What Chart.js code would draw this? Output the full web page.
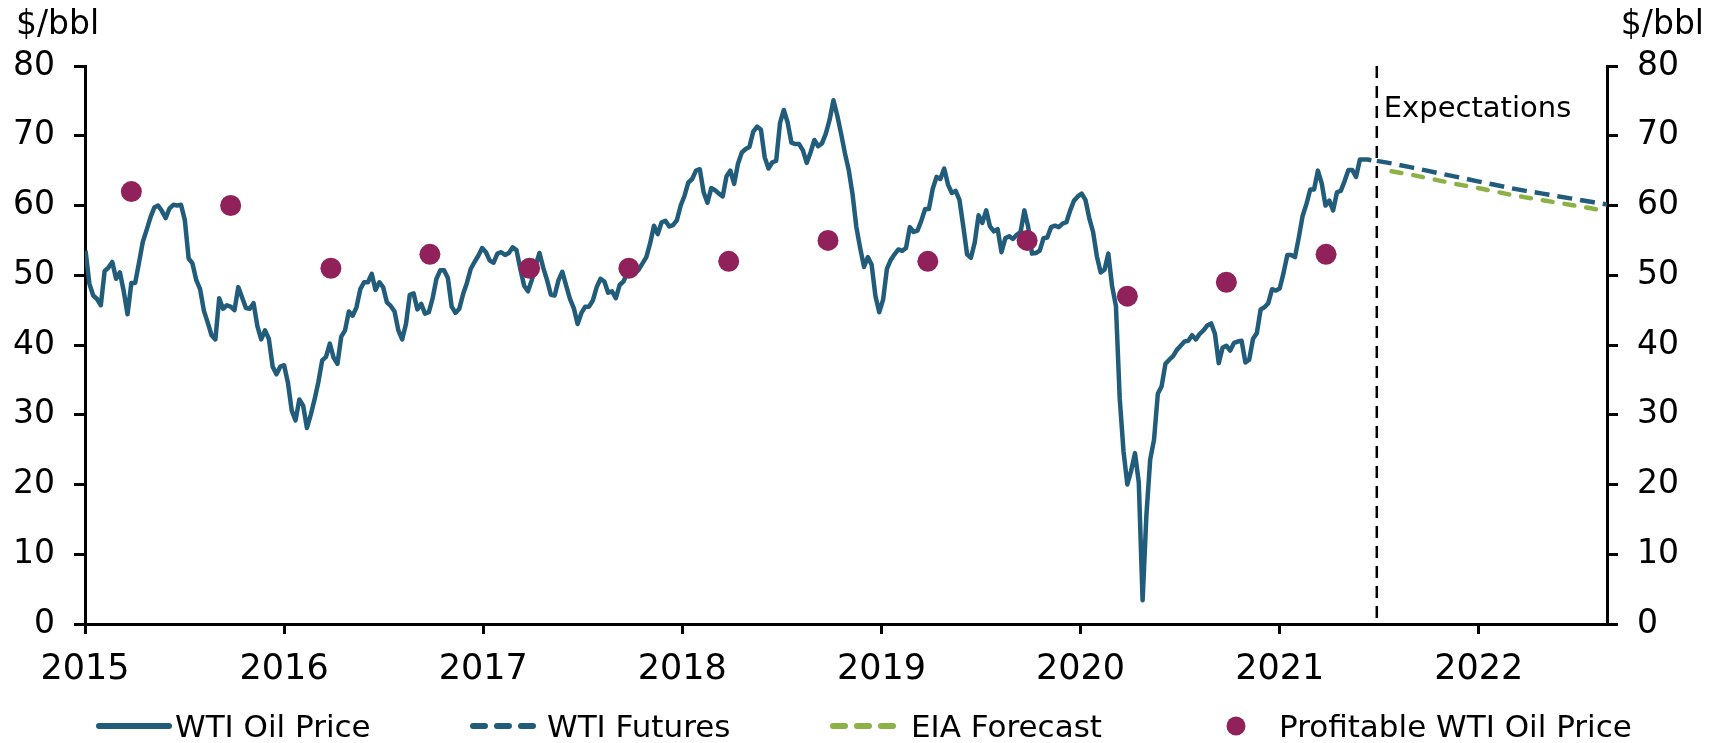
<!DOCTYPE html>
<html>
<head>
<meta charset="utf-8">
<script src="https://cdn.jsdelivr.net/npm/chart.js@4.4.1/dist/chart.umd.min.js"></script>
<style>
  html, body { margin: 0; padding: 0; background: #fff; overflow: hidden; }
  #wrap { position: relative; width: 1721px; height: 743px; }
  #legend { position: absolute; left: 0; top: 708px; width: 1721px; height: 36px;
            font: 31px "DejaVu Sans"; line-height: 36px; color: #000; }
  .item { position: absolute; top: 0; white-space: nowrap; }
  .item svg { position: absolute; top: 0; }
</style>
</head>
<body>
<div id="wrap">
  <canvas id="chart" width="1721" height="743"></canvas>
  <div id="legend"></div>
</div>
<script>
// weekly average WTI spot, weeks ending on Fridays, first week ends 2015-01-02
const firstWeek = '2015-01-02';
const wti2015 = [53.5, 48.8, 47.1, 46.6, 45.7, 50.6, 51.1, 51.9, 49.5, 50.4, 47.7, 44.4, 48.9,
  48.9, 51.8, 54.8, 56.5, 58.3, 59.7, 60.0, 59.2, 58.2, 59.6, 60.1, 60.0, 60.1,
  57.9, 52.4, 51.7, 49.3, 48.0, 44.9, 43.2, 41.4, 40.8, 46.7, 45.2, 45.7, 45.5,
  45.0, 48.3, 46.8, 45.3, 45.2, 46.0, 42.7, 40.8, 42.1, 40.9, 36.9, 35.8, 36.9];
const wti2016 = [37.1, 34.6, 30.6, 29.2, 32.2, 31.3, 28.1, 30.0, 32.2, 34.7, 37.8, 38.3, 40.2,
  38.2, 37.3, 41.2, 42.1, 44.8, 44.2, 45.4, 48.0, 49.0, 49.0, 50.2, 47.9, 49.0,
  48.3, 46.1, 45.6, 44.8, 42.1, 40.8, 43.0, 47.2, 47.4, 45.1, 45.9, 44.5, 44.7,
  46.7, 49.5, 50.7, 50.7, 49.6, 45.5, 44.6, 45.2, 47.3, 48.9, 50.9, 51.9, 52.8, 53.9];
const wti2017 = [53.3, 52.1, 51.8, 53.1, 53.3, 52.9, 53.2, 54.0, 53.6, 50.9, 48.5, 47.7, 49.3,
  51.3, 53.2, 51.1, 49.3, 47.2, 47.1, 49.3, 50.5, 48.5, 46.6, 45.3, 43.0, 44.6,
  45.5, 45.5, 46.4, 48.3, 49.5, 49.1, 47.5, 47.7, 46.7, 48.6, 49.1, 50.3, 51.9,
  50.2, 50.8, 51.7, 52.6, 54.6, 57.1, 55.9, 57.6, 57.8, 57.0, 57.2, 57.9, 60.0];
const wti2018 = [61.4, 63.3, 63.8, 65.0, 65.2, 61.9, 60.4, 62.5, 62.2, 61.7, 61.3, 64.2, 65.0,
  63.1, 66.0, 67.6, 68.1, 68.4, 70.6, 71.3, 70.9, 66.9, 65.3, 66.2, 66.4, 71.8,
  73.7, 71.9, 69.0, 68.8, 68.8, 67.9, 66.1, 67.6, 69.4, 68.5, 68.9, 70.3, 72.3,
  75.1, 72.9, 70.3, 67.5, 65.1, 61.6, 56.9, 53.9, 51.2, 52.6, 51.5, 47.0, 44.7];
const wti2019 = [46.5, 50.9, 52.2, 53.0, 53.7, 53.5, 53.9, 56.9, 56.2, 56.4, 57.8, 59.5, 59.5,
  62.4, 64.1, 63.8, 65.3, 63.0, 61.8, 62.1, 60.8, 57.0, 53.0, 52.5, 54.7, 58.6,
  57.5, 59.3, 57.0, 56.3, 56.6, 53.3, 55.3, 55.6, 55.2, 55.8, 56.2, 59.3, 56.9,
  53.1, 53.2, 53.5, 55.3, 55.4, 56.9, 57.1, 56.9, 57.4, 57.6, 59.3, 60.7, 61.3];
const wti2020 = [61.7, 60.8, 58.2, 56.2, 52.7, 50.4, 50.8, 53.1, 48.4, 45.6, 32.3, 24.7, 20.0,
  22.0, 24.5, 20.3, 3.4, 15.6, 23.6, 26.4, 33.0, 34.1, 37.3, 37.9, 38.4, 39.3,
  39.9, 40.5, 40.6, 41.4, 40.8, 41.6, 42.1, 42.8, 43.1, 41.6, 37.4, 39.6, 39.9,
  39.2, 40.3, 40.5, 40.6, 37.5, 37.9, 40.9, 41.7, 45.1, 45.4, 46.0, 48.0, 47.8];
const wti2021 = [48.1, 50.3, 52.9, 52.9, 52.6, 55.4, 58.5, 60.2, 62.3, 62.3, 65.0, 63.2, 60.0,
  60.7, 59.3, 61.9, 62.1, 63.5, 65.1, 65.1, 64.1, 66.6, 66.6, 66.6, 66.5];

// WTI futures curve and EIA forecast, monthly
const futuresDates = ['2021-06-28', '2021-07-28', '2021-08-28', '2021-09-28', '2021-10-28',
  '2021-11-28', '2021-12-28', '2022-01-28', '2022-02-28', '2022-03-28', '2022-04-28',
  '2022-05-28', '2022-06-28', '2022-07-28', '2022-08-28'];
const futuresValues = [66.4, 66.0, 65.5, 65.0, 64.5, 64.0, 63.5, 63.0, 62.5, 62.1, 61.7,
  61.3, 60.9, 60.5, 60.1];
const eiaDates = ['2021-07-25', '2021-08-25', '2021-09-25', '2021-10-25', '2021-11-25',
  '2021-12-25', '2022-01-25', '2022-02-25', '2022-03-25', '2022-04-25', '2022-05-25',
  '2022-06-25', '2022-07-25', '2022-08-25'];
const eiaValues = [64.9, 64.5, 64.0, 63.5, 63.0, 62.6, 62.1, 61.6, 61.2, 60.8, 60.4,
  60.0, 59.6, 59.2];

// breakeven price from the energy survey, first and third quarter
const surveyDates = ['2015-03-27', '2015-09-25', '2016-03-27', '2016-09-25', '2017-03-27',
  '2017-09-25', '2018-03-27', '2018-09-25', '2019-03-27', '2019-09-25', '2020-03-27',
  '2020-09-25', '2021-03-27'];
const surveyValues = [62, 60, 51, 53, 51, 51, 52, 55, 52, 55, 47, 49, 53];

const yearTicks = [2015, 2016, 2017, 2018, 2019, 2020, 2021, 2022];
const axisEnd = '2022-08-24';
const forecastStart = '2021-06-28';
const unitLabel = '$/bbl';
const seriesNames = ['WTI Oil Price', 'WTI Futures', 'EIA Forecast', 'Profitable WTI Oil Price'];

const BLUE = '#215D7A';
const GREEN = '#8CB246';
const PLUM = '#91215A';
const DAY = 86400000;

function toYear(ms) {
  const d = new Date(ms);
  const y = d.getUTCFullYear();
  const start = Date.UTC(y, 0, 1);
  const end = Date.UTC(y + 1, 0, 1);
  return y + (ms - start) / (end - start);
}
const dated = (dates, vals) => dates.map((d, i) => ({ x: toYear(Date.parse(d)), y: vals[i] }));

const wtiWeekly = [].concat(wti2015, wti2016, wti2017, wti2018, wti2019, wti2020, wti2021);
const t0 = Date.parse(firstWeek);
const wtiPoints = wtiWeekly.map((v, i) => ({ x: toYear(t0 + i * 7 * DAY), y: v }));

Chart.defaults.font.family = '"DejaVu Sans"';
Chart.defaults.color = '#000';

const annotations = {
  id: 'annotations',
  beforeDatasetsDraw(chart) {
    const { ctx, chartArea, scales } = chart;
    const xv = scales.x.getPixelForValue(toYear(Date.parse(forecastStart)));
    ctx.save();
    ctx.strokeStyle = '#000';
    ctx.lineWidth = 2.5;
    ctx.setLineDash([12, 8]);
    ctx.beginPath();
    ctx.moveTo(xv, chartArea.top);
    ctx.lineTo(xv, chartArea.bottom);
    ctx.stroke();
    ctx.setLineDash([]);
    ctx.fillStyle = '#000';
    ctx.textBaseline = 'alphabetic';
    ctx.textAlign = 'left';
    ctx.font = '29px "DejaVu Sans"';
    ctx.fillText('Expectations', xv + 7, chartArea.top + 51);
    ctx.font = '33px "DejaVu Sans"';
    ctx.fillText(unitLabel, 16, 34);
    ctx.textAlign = 'right';
    ctx.fillText(unitLabel, chart.width - 17, 34);
    ctx.restore();
  }
};

const yTicks = { color: '#000', font: { size: 33 }, stepSize: 10, padding: 19 };
const axisGrid = { drawOnChartArea: false, drawTicks: true, tickLength: 11, color: '#000', lineWidth: 3 };

new Chart(document.getElementById('chart'), {
  type: 'line',
  data: {
    datasets: [
      { label: seriesNames[3], data: dated(surveyDates, surveyValues), showLine: false,
        pointRadius: 10.5, pointBackgroundColor: PLUM, pointBorderWidth: 0, order: 0 },
      { label: seriesNames[0], data: wtiPoints, borderColor: BLUE, borderWidth: 4.5,
        borderJoinStyle: 'round', pointRadius: 0, order: 1 },
      { label: seriesNames[1], data: dated(futuresDates, futuresValues), borderColor: BLUE,
        borderWidth: 4.5, borderDash: [15, 8], pointRadius: 0, order: 2 },
      { label: seriesNames[2], data: dated(eiaDates, eiaValues), borderColor: GREEN,
        borderWidth: 4.5, borderDash: [10, 12], borderCapStyle: 'round', pointRadius: 0, order: 3 }
    ]
  },
  options: {
    responsive: false,
    animation: false,
    devicePixelRatio: 1,
    layout: { padding: { top: 66, left: 0, right: 0, bottom: 0 } },
    plugins: { legend: { display: false }, tooltip: { enabled: false } },
    scales: {
      x: {
        type: 'linear',
        min: 2015,
        max: toYear(Date.parse(axisEnd)),
        afterBuildTicks: s => { s.ticks = yearTicks.map(v => ({ value: v })); },
        afterFit: s => { s.height = 119; },
        grid: { ...axisGrid, tickLength: 10 },
        border: { color: '#000', width: 3 },
        ticks: { color: '#000', font: { size: 35 }, padding: 15, maxRotation: 0, autoSkip: false,
                 callback: v => String(v) }
      },
      y: {
        position: 'left', min: 0, max: 80,
        afterFit: s => { s.width = 85; },
        grid: axisGrid,
        border: { color: '#000', width: 3 },
        ticks: yTicks
      },
      y2: {
        position: 'right', min: 0, max: 80,
        afterFit: s => { s.width = 114; },
        grid: axisGrid,
        border: { color: '#000', width: 3 },
        ticks: yTicks
      }
    }
  },
  plugins: [annotations]
});

// legend below the plot
const legendItems = [
  { label: seriesNames[0], kind: 'solid', color: BLUE, left: 95, textLeft: 175 },
  { label: seriesNames[1], kind: 'dash', color: BLUE, left: 467, textLeft: 547 },
  { label: seriesNames[2], kind: 'dash', color: GREEN, left: 827, textLeft: 911 },
  { label: seriesNames[3], kind: 'dot', color: PLUM, left: 1200, textLeft: 1279 }
];
const legend = document.getElementById('legend');
legendItems.forEach(it => {
  let mark;
  if (it.kind === 'solid') {
    mark = `<line x1="4" y1="18" x2="74" y2="18" stroke="${it.color}" stroke-width="6" stroke-linecap="round"/>`;
  } else if (it.kind === 'dash') {
    mark = `<line x1="6" y1="18" x2="72" y2="18" stroke="${it.color}" stroke-width="6" stroke-linecap="round" stroke-dasharray="12 12"/>`;
  } else {
    mark = `<circle cx="36" cy="18" r="9.5" fill="${it.color}"/>`;
  }
  const el = document.createElement('div');
  el.className = 'item';
  el.style.left = it.left + 'px';
  el.innerHTML = `<svg width="80" height="36">${mark}</svg>` +
    `<span style="position:absolute;left:${it.textLeft - it.left}px">${it.label}</span>`;
  legend.appendChild(el);
});
</script>
</body>
</html>
